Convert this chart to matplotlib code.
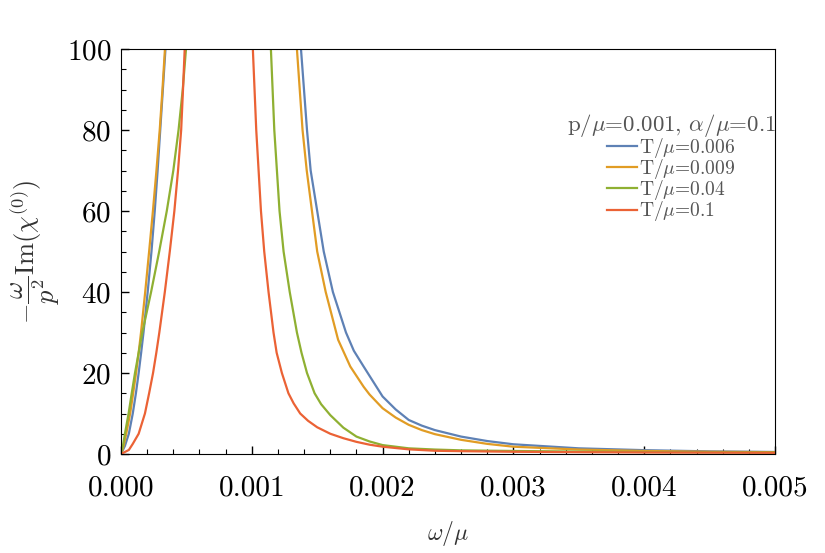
import matplotlib
matplotlib.use('Agg')
import matplotlib.pyplot as plt
from matplotlib.ticker import MultipleLocator, FormatStrFormatter

plt.rcParams['font.family'] = 'serif'
plt.rcParams['font.serif'] = ['cmr10']
plt.rcParams['mathtext.fontset'] = 'cm'
plt.rcParams['axes.formatter.use_mathtext'] = True

# left branches (rising part): y levels and w/mu positions
y_left = [0, 2, 5, 10, 15, 20, 25, 30, 40, 50, 60, 70, 80, 90, 100]
x_left_006 = [0, 0.00003, 0.00006, 0.00009, 0.000114, 0.000135, 0.000154, 0.000172, 0.000204,
              0.000233, 0.000258, 0.00028, 0.0003, 0.00032, 0.00034]
x_left_009 = [0, 0.00002, 0.00004, 0.00007, 0.000093, 0.000115, 0.000135, 0.000153, 0.000185,
              0.000215, 0.000244, 0.000271, 0.000296, 0.000317, 0.000336]
x_left_04 = [0, 0.000015, 0.00003, 0.000058, 0.000082, 0.000107, 0.000135, 0.000163, 0.00023,
             0.000292, 0.00035, 0.0004, 0.00044, 0.000472, 0.000497]
y_left_1 = [0, 1, 2.5, 5, 10, 15, 20, 25, 30, 40, 50, 60, 70, 80, 90, 100]
x_left_1 = [0, 0.00006, 0.00009, 0.000135, 0.000183, 0.000215, 0.000245, 0.00027, 0.000293,
            0.000335, 0.000373, 0.000408, 0.000436, 0.00046, 0.000474, 0.000487]

# right branches (falling part)
x_right_006 = [0.001376, 0.001422, 0.00145, 0.0015, 0.00155, 0.00162, 0.00172, 0.00178, 0.001855,
               0.0019, 0.002, 0.0021, 0.0022, 0.0023, 0.0024, 0.0026, 0.0028, 0.003, 0.0035,
               0.004, 0.0045, 0.005]
y_right_006 = [100, 80, 70, 60, 50, 40, 30, 25.5, 21.6, 19.3, 14.2, 11.0, 8.4, 7.0, 5.9, 4.3,
               3.2, 2.4, 1.4, 0.95, 0.65, 0.5]
x_right_009 = [0.001345, 0.001388, 0.00142, 0.00146, 0.0015, 0.001565, 0.00166, 0.001753, 0.001855,
               0.0019, 0.00195, 0.002, 0.0021, 0.0022, 0.0023, 0.0024, 0.0026, 0.0028, 0.003,
               0.0035, 0.004, 0.0045, 0.005]
y_right_009 = [100, 80, 70, 60, 50, 40, 28.2, 21.6, 16.6, 14.7, 13.0, 11.3, 9.0, 7.2, 5.9, 4.9,
               3.5, 2.5, 1.8, 1.1, 0.75, 0.55, 0.45]
x_right_04 = [0.001146, 0.001172, 0.001212, 0.001243, 0.00129, 0.001345, 0.00138, 0.001422, 0.00148,
              0.00153, 0.0016, 0.0017, 0.0018, 0.0019, 0.002, 0.0022, 0.0024, 0.0026, 0.003,
              0.0035, 0.004, 0.005]
y_right_04 = [100, 80, 60, 50, 40, 30, 25, 20, 15, 12.3, 9.6, 6.5, 4.3, 3.1, 2.2, 1.4, 1.1, 0.9,
              0.75, 0.6, 0.5, 0.38]
x_right_1 = [0.001008, 0.001034, 0.00107, 0.001095, 0.001128, 0.001166, 0.00119, 0.00123, 0.00128,
             0.00132, 0.00137, 0.00143, 0.0015, 0.0016, 0.0017, 0.0018, 0.0019, 0.002, 0.0022,
             0.0024, 0.0026, 0.003, 0.0035, 0.004, 0.005]
y_right_1 = [100, 80, 60, 50, 40, 30, 25, 20, 15, 12.5, 10, 8.2, 6.6, 5.0, 3.9, 3.0, 2.3, 1.8,
             1.15, 0.8, 0.7, 0.55, 0.45, 0.38, 0.3]

labels = [r'T/$\mu$=0.006', r'T/$\mu$=0.009', r'T/$\mu$=0.04', r'T/$\mu$=0.1']
colors = ['#5E81B5', '#E19C24', '#8FB032', '#EB6235']

curves = [
    (x_left_006, y_left, x_right_006, y_right_006),
    (x_left_009, y_left, x_right_009, y_right_009),
    (x_left_04, y_left, x_right_04, y_right_04),
    (x_left_1, y_left_1, x_right_1, y_right_1),
]

fig = plt.figure(figsize=(8.25, 5.53), dpi=100)
ax = fig.add_axes([121 / 825, 1 - 454 / 553, 654 / 825, 405 / 553])

for (xl, yl, xr, yr), lab, c in zip(curves, labels, colors):
    ax.plot(xl, yl, color=c, lw=1.6, label=lab, solid_joinstyle='round')
    ax.plot(xr, yr, color=c, lw=1.6, solid_joinstyle='round')

ax.set_xlim(0, 0.005)
ax.set_ylim(0, 100)
ax.xaxis.set_major_locator(MultipleLocator(0.001))
ax.xaxis.set_minor_locator(MultipleLocator(0.0002))
ax.yaxis.set_major_locator(MultipleLocator(20))
ax.yaxis.set_minor_locator(MultipleLocator(5))
ax.xaxis.set_major_formatter(FormatStrFormatter('%.3f'))
ax.tick_params(which='both', direction='in', top=False, right=False, labelsize=21)
ax.tick_params(which='major', length=6, width=1)
ax.tick_params(which='minor', length=3.5, width=0.8)
ax.tick_params(axis='x', pad=15)
ax.tick_params(axis='y', pad=7)

ax.set_xlabel(r'$\omega/\mu$', fontsize=17, color='#333333')
ax.xaxis.set_label_coords(0.5, -0.16)
ax.set_ylabel(r'$-\dfrac{\omega}{p^2}\mathrm{Im}(\chi^{(0)})$', fontsize=19, color='#333333')
ax.yaxis.set_label_coords(-0.09, 0.5)

leg = ax.legend(title=r'p/$\mu$=0.001, $\alpha/\mu$=0.1', loc='upper right',
                bbox_to_anchor=(776 / 825, 1 - 112 / 553), bbox_transform=fig.transFigure,
                frameon=False, fontsize=14, title_fontsize=16.5, handlelength=1.5,
                handletextpad=0.15, labelspacing=-0.15, borderpad=0, borderaxespad=0,
                labelcolor='#555555')
leg.get_title().set_color('#555555')

fig.savefig('out.png', dpi=100)
